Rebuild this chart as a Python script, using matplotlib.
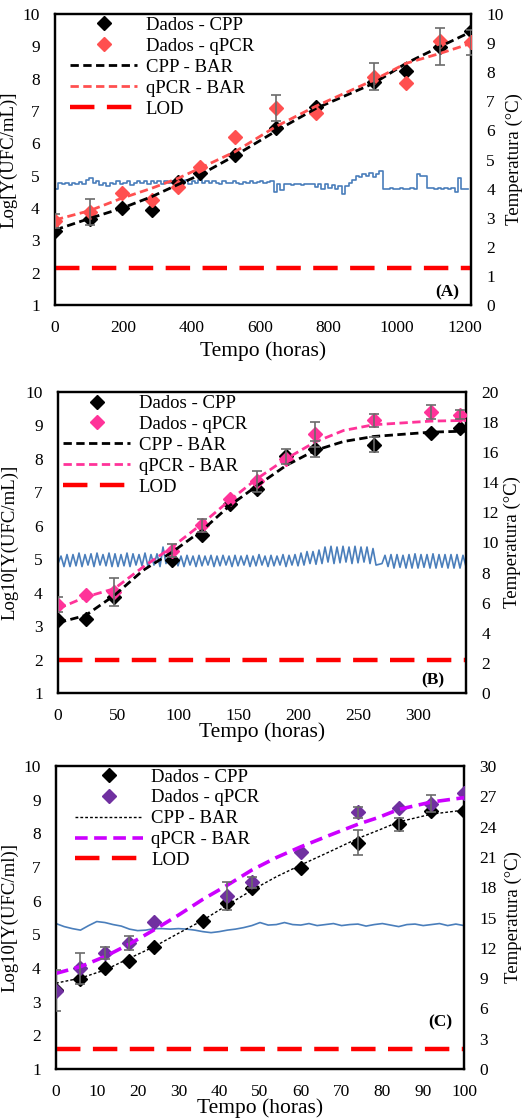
import numpy as np
import matplotlib
matplotlib.use("Agg")
import matplotlib.pyplot as plt

plt.rcParams['font.family'] = ['Liberation Serif', 'DejaVu Serif']

# ---------------- Panel A ----------------
a_time = [0, 102, 195, 283, 361, 424, 527, 647, 764, 934, 1027, 1127, 1218]
a_cpp = [3.29, 3.66, 3.99, 3.94, 4.81, 5.07, 5.64, 6.48, 7.13, 7.90, 8.24, 8.99, 9.47]
a_qpcr = [3.60, 3.88, 4.47, 4.25, 4.64, 5.28, 6.20, 7.08, 6.93, 8.06, 7.86, 9.16, 9.12]
a_cpp_err = [0, 0, 0, 0, 0, 0, 0, 0, 0, 0, 0, 0.58, 0]
a_qpcr_err = [0.22, 0.40, 0, 0, 0, 0, 0, 0.40, 0, 0.42, 0, 0, 0.38]
a_fit_time = [0, 102, 195, 283, 361, 424, 527, 647, 764, 934, 1027, 1127, 1218]
a_cpp_fit = [3.32, 3.68, 3.99, 4.35, 4.73, 5.02, 5.62, 6.38, 7.08, 7.86, 8.47, 8.99, 9.45]
a_qpcr_fit = [3.63, 3.92, 4.30, 4.61, 4.92, 5.23, 5.74, 6.52, 7.15, 7.96, 8.47, 8.78, 9.09]
a_lod = 2.15
a_temp_time = np.arange(0, 1220, 10)
a_temp = [4.00, 4.18, 4.15, 4.20, 4.12, 4.20, 4.15, 4.22, 4.15, 4.30,
          4.35, 4.20, 4.25, 4.12, 4.20, 4.10, 4.20, 4.15, 4.25, 4.15,
          4.20, 4.25, 4.12, 4.20, 4.25, 4.20, 4.25, 4.15, 4.25, 4.20,
          4.25, 4.15, 4.25, 4.20, 4.25, 4.20, 4.28, 4.20, 4.30, 4.15,
          4.25, 4.20, 4.30, 4.20, 4.25, 4.18, 4.25, 4.20, 4.15, 4.25,
          4.20, 4.18, 4.25, 4.20, 4.15, 4.22, 4.20, 4.25, 4.18, 4.22,
          4.25, 4.20, 4.22, 4.25, 3.90, 4.15, 3.95, 4.15, 4.15, 4.12,
          4.15, 4.15, 4.12, 4.15, 4.15, 4.15, 4.05, 4.15, 4.00, 4.15,
          4.02, 4.12, 4.00, 4.10, 3.80, 4.10, 4.20, 4.30, 4.45, 4.40,
          4.50, 4.45, 4.55, 4.40, 4.50, 4.60, 4.00, 4.00, 4.02, 4.00,
          4.00, 4.02, 4.00, 4.00, 4.02, 4.00, 4.50, 4.45, 4.45, 4.02,
          4.02, 4.00, 4.02, 4.00, 4.02, 4.00, 4.02, 3.90, 4.35, 4.00,
          4.00, 4.00]

# ---------------- Panel B ----------------
b_time = [0, 23, 47, 95, 120, 143, 166, 190, 214, 263, 311, 335]
b_cpp = [3.17, 3.20, 3.87, 4.97, 5.71, 6.66, 7.11, 8.08, 8.29, 8.43, 8.78, 8.93]
b_qpcr = [3.64, 3.94, 4.02, 5.26, 6.01, 6.81, 7.33, 8.00, 8.73, 9.15, 9.40, 9.32]
b_cpp_err = [0, 0, 0, 0, 0, 0, 0, 0.22, 0.24, 0.23, 0, 0]
b_qpcr_err = [0.22, 0, 0.43, 0.20, 0.20, 0, 0.32, 0, 0.37, 0.20, 0.20, 0.13]
b_fit_time = [0, 23, 47, 71, 95, 120, 143, 166, 190, 214, 238, 263, 311, 340]
b_cpp_fit = [3.10, 3.32, 3.92, 4.67, 5.21, 5.86, 6.60, 7.20, 7.80, 8.25, 8.52, 8.67, 8.80, 8.83]
b_qpcr_fit = [3.52, 3.87, 4.12, 4.77, 5.36, 6.06, 6.76, 7.41, 8.00, 8.50, 8.85, 9.02, 9.13, 9.15]
b_lod = 2.0
b_temp_time = np.arange(0, 342.5, 2.5)
b_temp = [8.6, 9.1, 8.4, 9.2, 8.4, 9.2, 8.45, 9.3, 8.4, 9.2, 8.5, 9.25,
          8.4, 9.3, 8.5, 9.2, 8.45, 9.3, 8.4, 9.25, 8.4, 9.2, 8.45, 9.3,
          8.4, 9.25, 8.5, 9.2, 8.45, 9.3, 8.4, 9.2, 8.5, 9.25, 8.4, 9.7,
          8.6, 9.2, 8.4, 9.1, 8.45, 9.1, 8.4, 9.15, 8.5, 9.1, 8.4, 9.15,
          8.45, 9.1, 8.5, 9.15, 8.4, 9.1, 8.45, 9.15, 8.5, 9.1, 8.4, 9.15,
          8.45, 9.1, 8.5, 9.15, 8.4, 9.1, 8.45, 9.2, 8.5, 9.1, 8.4, 9.15,
          8.45, 9.1, 8.5, 9.2, 8.4, 9.15, 8.5, 9.2, 8.45, 9.3, 8.5, 9.4,
          8.6, 9.4, 8.55, 9.5, 8.6, 9.7, 8.7, 9.75, 8.6, 9.7, 8.65, 9.75,
          8.7, 9.7, 8.6, 9.75, 8.65, 9.7, 8.7, 9.7, 8.6, 9.6, 8.5, 8.55,
          8.6, 9.15, 8.4, 9.2, 8.3, 9.2, 8.35, 9.15, 8.3, 9.2, 8.3, 9.25,
          8.3, 9.2, 8.35, 9.2, 8.3, 9.25, 8.3, 9.2, 8.35, 9.2, 8.3, 9.2,
          8.3, 9.2, 8.3, 9.15, 8.4]

# ---------------- Panel C ----------------
c_time = [0, 6, 12, 18, 24, 36, 42, 48, 60, 74, 84, 92, 100]
c_cpp = [3.35, 3.68, 3.99, 4.22, 4.61, 5.40, 5.92, 6.38, 6.98, 7.72, 8.27, 8.67, 8.66]
c_qpcr_time = [0, 6, 12, 18, 24, 42, 48, 60, 74, 84, 92, 100]
c_qpcr = [3.33, 3.99, 4.44, 4.73, 5.38, 6.14, 6.54, 7.45, 8.62, 8.76, 8.88, 9.21]
c_cpp_err = [0, 0, 0, 0, 0, 0, 0, 0, 0, 0.37, 0.19, 0, 0]
c_qpcr_err = [0.60, 0.47, 0.17, 0.21, 0, 0.42, 0.17, 0, 0.17, 0, 0.25, 0]
c_fit_time = [0, 6, 12, 18, 24, 30, 36, 42, 48, 54, 60, 67, 74, 79, 84, 92, 100]
c_cpp_fit = [3.55, 3.70, 3.94, 4.29, 4.63, 5.03, 5.42, 5.87, 6.31, 6.71, 7.06, 7.45, 7.85, 8.09, 8.34, 8.57, 8.69]
c_qpcr_fit = [3.84, 4.04, 4.34, 4.71, 5.13, 5.57, 6.04, 6.46, 6.91, 7.28, 7.60, 7.94, 8.27, 8.47, 8.71, 8.93, 9.06]
c_lod = 1.6
c_temp_time = np.arange(0, 102, 2)
c_temp = [14.4, 14.1, 13.9, 13.75, 14.2, 14.6, 14.5, 14.3, 14.15, 13.85,
          13.7, 13.75, 13.9, 13.9, 13.85, 13.9, 13.85, 13.75, 13.6, 13.5,
          13.6, 13.75, 13.85, 14.0, 14.2, 14.5, 14.25, 14.3, 14.5, 14.3,
          14.25, 14.4, 14.2, 14.3, 14.4, 14.2, 14.3, 14.35, 14.15, 14.3,
          14.4, 14.25, 14.1, 14.3, 14.35, 14.2, 14.3, 14.4, 14.2, 14.35,
          14.2]

TEMP_BLUE = '#4a7ebb'
ERR_GRAY = '#6b6b6b'


def draw_panel(rect, t, cpp, cpp_err, tq, qpcr, qpcr_err, tf, cpp_fit, qpcr_fit,
               lod, tt, temp, temp_steps, xlim, xticks, rlim, rticks, ylabel,
               qcolor, qfit_color, cpp_fit_style, qfit_style, panel_tag, tag_pos,
               leg_anchor, xlabel_y, ylabel_x, rlabel_x):
    ax = fig.add_axes(rect)
    axr = ax.twinx()
    ax.set_zorder(axr.get_zorder() + 1)
    ax.patch.set_visible(False)

    # temperature on the secondary axis
    axr.plot(tt, temp, color=TEMP_BLUE, lw=1.2,
             drawstyle='steps-post' if temp_steps else 'default')
    axr.set_ylim(*rlim)
    axr.set_yticks(rticks)

    t = np.asarray(t); cpp = np.asarray(cpp); cpp_err = np.asarray(cpp_err)
    tq = np.asarray(tq); qpcr = np.asarray(qpcr); qpcr_err = np.asarray(qpcr_err)

    h1, = ax.plot(t, cpp, 'D', color='black', ms=7.5, ls='none', zorder=3,
                  label='Dados - CPP')
    h2, = ax.plot(tq, qpcr, 'D', color=qcolor, ms=7.5, ls='none', zorder=3.5,
                  label='Dados - qPCR')
    m = cpp_err > 0
    ax.errorbar(t[m], cpp[m], yerr=cpp_err[m], fmt='none', ecolor=ERR_GRAY,
                elinewidth=1.2, capsize=3.5, capthick=1.2, zorder=5)
    m = qpcr_err > 0
    ax.errorbar(tq[m], qpcr[m], yerr=qpcr_err[m], fmt='none', ecolor=ERR_GRAY,
                elinewidth=1.2, capsize=3.5, capthick=1.2, zorder=5)

    h3, = ax.plot(tf, cpp_fit, color='black', zorder=4, label='CPP - BAR',
                  **cpp_fit_style)
    h4, = ax.plot(tf, qpcr_fit, color=qfit_color, zorder=4, label='qPCR - BAR',
                  **qfit_style)
    h5 = ax.axhline(lod, color='#ff0000', lw=3.2, ls=(0, (5.5, 2.8)),
                    zorder=2, label='LOD')

    ax.set_xlim(*xlim)
    ax.set_xticks(xticks)
    ax.set_ylim(1, 10)
    ax.set_yticks(range(1, 11))

    for a in (ax, axr):
        a.tick_params(length=0, pad=11, labelsize=12.5)
        for s in a.spines.values():
            s.set_linewidth(1.6)
            s.set_color('black')

    ax.set_xlabel('Tempo (horas)', fontsize=15.5)
    ax.xaxis.set_label_coords(0.5, xlabel_y)
    ax.set_ylabel(ylabel, fontsize=13.5)
    ax.yaxis.set_label_coords(ylabel_x, 0.5)
    axr.set_ylabel('Temperatura (°C)', fontsize=13.5)
    axr.yaxis.set_label_coords(rlabel_x, 0.5)

    ax.text(tag_pos[0], tag_pos[1], panel_tag, transform=ax.transAxes,
            fontsize=12.5, fontweight='bold', ha='center', va='center')

    ax.legend(handles=[h1, h2, h3, h4, h5], loc='upper left',
              bbox_to_anchor=leg_anchor, frameon=False, fontsize=13.5,
              handlelength=3.6, handletextpad=0.45, labelspacing=0.2,
              borderpad=0, borderaxespad=0, numpoints=1)
    return ax


fig = plt.figure(figsize=(5.23, 11.19), dpi=100)

draw_panel([55 / 523, 1 - 305 / 1119, 416 / 523, 291 / 1119],
           a_time, a_cpp, a_cpp_err, a_time, a_qpcr, a_qpcr_err,
           a_fit_time, a_cpp_fit, a_qpcr_fit, a_lod,
           a_temp_time, a_temp, True,
           (0, 1218), range(0, 1201, 200), (0, 10), range(0, 11),
           'Log[Y(UFC/mL)]', '#ff5050', '#ff5050',
           dict(lw=2.0, ls=(0, (3.0, 1.6))), dict(lw=2.0, ls=(0, (3.0, 1.6))),
           '(A)', (0.942, 0.045), (0.036, 0.99), -0.125, -0.091, 1.083)

draw_panel([58 / 523, 1 - 693 / 1119, 408 / 523, 301 / 1119],
           b_time, b_cpp, b_cpp_err, b_time, b_qpcr, b_qpcr_err,
           b_fit_time, b_cpp_fit, b_qpcr_fit, b_lod,
           b_temp_time, b_temp, False,
           (0, 340), range(0, 301, 50), (0, 20), range(0, 21, 2),
           'Log10[Y(UFC/mL)]', '#ff3399', '#ff3399',
           dict(lw=2.0, ls=(0, (3.0, 1.6))), dict(lw=2.0, ls=(0, (3.0, 1.6))),
           '(B)', (0.919, 0.043), (0.012, 0.99), -0.098, -0.096, 1.093)

draw_panel([56 / 523, 1 - 1069 / 1119, 408 / 523, 303 / 1119],
           c_time, c_cpp, c_cpp_err, c_qpcr_time, c_qpcr, c_qpcr_err,
           c_fit_time, c_cpp_fit, c_qpcr_fit, c_lod,
           c_temp_time, c_temp, False,
           (0, 100), range(0, 101, 10), (0, 30), range(0, 31, 3),
           'Log10[Y(UFC/ml)]', '#7030a0', '#cc00ff',
           dict(lw=1.0, ls=(0, (2.0, 1.5))), dict(lw=2.6, ls=(0, (3.5, 1.8))),
           '(C)', (0.943, 0.153), (0.047, 0.992), -0.098, -0.091, 1.1)

fig.savefig('out.png', dpi=100)
